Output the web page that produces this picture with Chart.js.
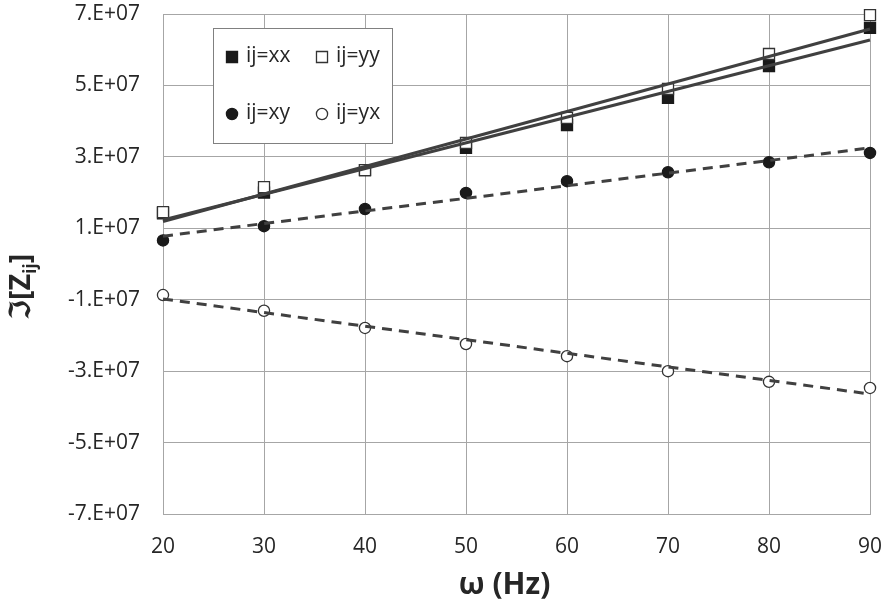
<!DOCTYPE html>
<html>
<head>
<meta charset="utf-8">
<script src="https://cdn.jsdelivr.net/npm/chart.js@4"></script>
<style>
  html, body { margin: 0; padding: 0; background: #fff; }
  #wrap { width: 889px; height: 605px; }
</style>
</head>
<body>
<div id="wrap"><canvas id="chart" width="889" height="605"></canvas></div>
<script>
// frequencies (Hz)
const freqs = [20, 30, 40, 50, 60, 70, 80, 90];

// imaginary part of Z_ij
const imXX = [1.42e7, 2.00e7, 2.63e7, 3.25e7, 3.89e7, 4.65e7, 5.54e7, 6.61e7];
const imYY = [1.45e7, 2.15e7, 2.63e7, 3.39e7, 4.09e7, 4.90e7, 5.88e7, 6.97e7];
const imXY = [0.66e7, 1.06e7, 1.54e7, 1.99e7, 2.32e7, 2.57e7, 2.85e7, 3.11e7];
const imYX = [-0.87e7, -1.31e7, -1.79e7, -2.24e7, -2.58e7, -3.00e7, -3.30e7, -3.47e7];

// trend line end points (at 20 and 90 Hz)
const trendX = [20, 90];
const trendXX = [1.23e7, 6.27e7];
const trendYY = [1.19e7, 6.58e7];
const trendXY = [0.78e7, 3.25e7];
const trendYX = [-0.98e7, -3.64e7];

const yTicks = [-7e7, -5e7, -3e7, -1e7, 1e7, 3e7, 5e7, 7e7];

const pts = (xs, ys) => xs.map((x, i) => ({x, y: ys[i]}));

const dark = '#404040';
const black = '#1a1a1a';
const FONT = '"Open Sans", "DejaVu Sans", sans-serif';

function markerSet(label, ys, style, filled) {
    return {
        label,
        data: pts(freqs, ys),
        showLine: false,
        pointStyle: style,
        pointRadius: style === 'rect' ? 7.8 : 5.6,
        pointBackgroundColor: filled ? black : '#fff',
        pointBorderColor: filled ? black : '#333',
        pointBorderWidth: 1.3,
        clip: false
    };
}

function trendSet(ys, dashed) {
    return {
        label: '',
        data: pts(trendX, ys),
        showLine: true,
        pointRadius: 0,
        borderColor: dark,
        borderWidth: 3,
        borderDash: dashed ? [10, 7] : [],
        order: 0,
        clip: false
    };
}

// legend box drawn inside the plot, Excel style
const boxLegend = {
    id: 'boxLegend',
    afterDraw(chart) {
        const ctx = chart.ctx;
        ctx.save();
        ctx.fillStyle = '#fff';
        ctx.fillRect(213, 28, 179, 115);
        ctx.strokeStyle = '#808080';
        ctx.lineWidth = 1;
        ctx.strokeRect(213.5, 28.5, 179, 115);
        const items = [
            {ds: 0, x: 232, y: 57}, {ds: 1, x: 322, y: 57},
            {ds: 2, x: 232, y: 114}, {ds: 3, x: 322, y: 114}
        ];
        ctx.font = '21px ' + FONT;
        ctx.textBaseline = 'middle';
        items.forEach(it => {
            const d = chart.data.datasets[it.ds];
            ctx.fillStyle = d.pointBackgroundColor;
            ctx.strokeStyle = d.pointBorderColor;
            ctx.lineWidth = d.pointBorderWidth;
            Chart.helpers.drawPoint(ctx, {pointStyle: d.pointStyle, radius: d.pointRadius, borderWidth: d.pointBorderWidth}, it.x, it.y);
            ctx.fillStyle = '#262626';
            ctx.fillText(d.label, it.x + 14, it.y - 1);
        });
        ctx.restore();
    }
};

// axis titles (y title needs a subscript)
const axisTitles = {
    id: 'axisTitles',
    afterDraw(chart) {
        const ctx = chart.ctx;
        const a = chart.chartArea;
        ctx.save();
        ctx.fillStyle = '#262626';
        ctx.textBaseline = 'alphabetic';
        ctx.font = 'bold 30px ' + FONT;
        ctx.textAlign = 'center';
        ctx.fillText('\u03c9 (Hz)', (a.left + a.right) / 2 - 12, 594);

        ctx.translate(30, 287);
        ctx.rotate(-Math.PI / 2);
        const big = 'bold 29px ' + FONT;
        const small = 'bold 17px ' + FONT;
        ctx.textAlign = 'left';
        ctx.font = big;
        const p1 = '\u2111[Z';
        const w1 = ctx.measureText(p1).width;
        ctx.font = small;
        const w2 = ctx.measureText('ij').width;
        ctx.font = big;
        const w3 = ctx.measureText(']').width;
        let x = -(w1 + w2 + w3) / 2;
        ctx.fillText(p1, x, 0);
        x += w1;
        ctx.font = small;
        ctx.fillText('ij', x, 6);
        x += w2;
        ctx.font = big;
        ctx.fillText(']', x, 0);
        ctx.restore();
    }
};

new Chart(document.getElementById('chart'), {
    type: 'scatter',
    data: {
        datasets: [
            {...markerSet('ij=xx', imXX, 'rect', true), order: 2},
            {...markerSet('ij=yy', imYY, 'rect', false), order: 1},
            {...markerSet('ij=xy', imXY, 'circle', true), order: 1},
            {...markerSet('ij=yx', imYX, 'circle', false), order: 1},
            trendSet(trendXX, false),
            trendSet(trendYY, false),
            trendSet(trendXY, true),
            trendSet(trendYX, true)
        ]
    },
    options: {
        responsive: false,
        animation: false,
        layout: {padding: {top: 14, right: 19, left: 0, bottom: 0}},
        plugins: {legend: {display: false}, tooltip: {enabled: false}},
        scales: {
            x: {
                type: 'linear',
                min: 20, max: 90,
                ticks: {stepSize: 10, padding: 20, color: '#262626', font: {family: FONT, size: 21}},
                grid: {color: '#a6a6a6', lineWidth: 1, drawTicks: false},
                border: {color: '#a6a6a6'},
                afterFit: s => { s.height = 91; s.paddingLeft = 0; s.paddingRight = 0; }
            },
            y: {
                min: -7e7, max: 7e7,
                afterBuildTicks: s => { s.ticks = yTicks.map(v => ({value: v})); },
                ticks: {
                    padding: 23, color: '#262626', font: {family: FONT, size: 21},
                    callback: v => (v < 0 ? '-' : '') + Math.round(Math.abs(v) / 1e7) + '.E+07'
                },
                grid: {color: '#a6a6a6', lineWidth: 1, drawTicks: false},
                border: {color: '#a6a6a6'},
                afterFit: s => { s.width = 163; s.paddingTop = 0; s.paddingBottom = 0; }
            }
        }
    },
    plugins: [boxLegend, axisTitles]
});
</script>
</body>
</html>
